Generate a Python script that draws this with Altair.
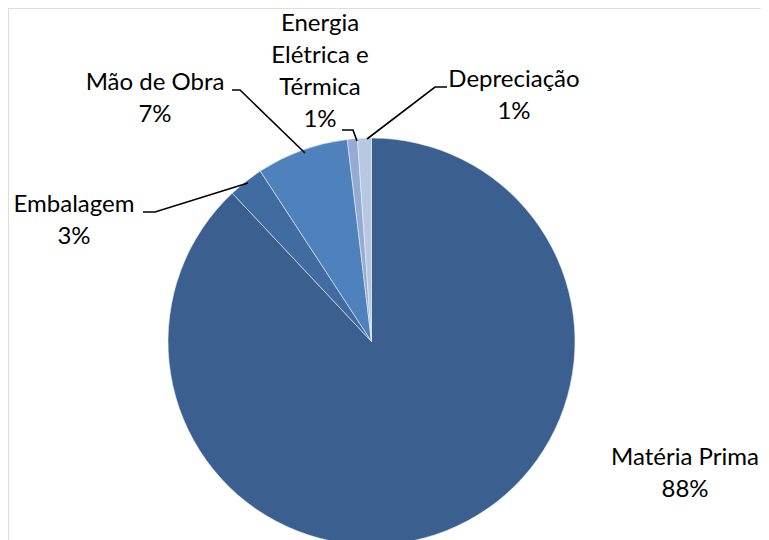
import altair as alt
import pandas as pd

# ---- data ----
categories = ["Matéria Prima", "Embalagem", "Mão de Obra", "Energia Elétrica e Térmica", "Depreciação"]
values = [88.0, 2.8, 7.3, 0.8, 1.1]
pct_labels = ["88%", "3%", "7%", "1%", "1%"]
label_texts = ["Matéria Prima", "Embalagem", "Mão de Obra", "Energia\nElétrica e\nTérmica", "Depreciação"]

# ---- styles ----
colors = ["#3B5F8F", "#406CA2", "#4F81BD", "#95ABD3", "#B9C8E2"]
FONT = "Lato"
FS = 24
LH = 32
M = 8  # page margin

CX, CY = 371.5, 341.5   # pie centre (page pixels)
W, H = 753, 532
R = 203.5

# label anchors (page pixels: centre x, first baseline y)
label_pos = [(685, 465), (74, 212), (155, 90), (320, 31), (514, 87)]
# leader lines (page pixels)
leaders = {
    "Embalagem": [(143, 212), (155, 212), (248, 183)],
    "Mão de Obra": [(232, 90), (240, 90), (305, 153)],
    "Energia": [(342, 130), (353, 130), (357, 141)],
    "Depreciação": [(447, 87), (435, 87), (367, 139)],
}

pie_df = pd.DataFrame({"cat": categories, "val": values, "ord": list(range(len(categories)))})

lab_df = pd.DataFrame({
    "text": [f"{t}\n{p}" for t, p in zip(label_texts, pct_labels)],
    "x": [p[0] - M for p in label_pos],
    "y": [p[1] - M for p in label_pos],
})

rows = []
for k, pts in leaders.items():
    for i, (x, y) in enumerate(pts):
        rows.append({"id": k, "i": i, "x": x - M, "y": y - M})
lead_df = pd.DataFrame(rows)

pie = alt.Chart(pie_df).mark_arc(outerRadius=R, stroke="#E8EEF6", strokeWidth=0.6).encode(
    theta=alt.Theta("val:Q", stack=True),
    order=alt.Order("ord:Q"),
    color=alt.Color("cat:N", scale=alt.Scale(domain=categories, range=colors), legend=None),
    x=alt.value(CX - M),
    y=alt.value(CY - M),
)

labels = alt.Chart(lab_df).mark_text(
    font=FONT, fontSize=FS, lineBreak="\n", lineHeight=LH, align="center", baseline="alphabetic", color="#000000"
).encode(
    x=alt.X("x:Q", scale=None, axis=None),
    y=alt.Y("y:Q", scale=None, axis=None),
    text="text:N",
)

lines = alt.Chart(lead_df).mark_line(color="#000000", strokeWidth=1.6).encode(
    x=alt.X("x:Q", scale=None, axis=None),
    y=alt.Y("y:Q", scale=None, axis=None),
    detail="id:N",
    order="i:Q",
)

chart = alt.layer(pie, lines, labels).properties(
    width=W, height=H, padding=0, autosize=alt.AutoSizeParams(type="none")
).configure_view(stroke=None).configure(background="white")

chart.save("out.html", embed_options={"renderer": "svg", "actions": False})
